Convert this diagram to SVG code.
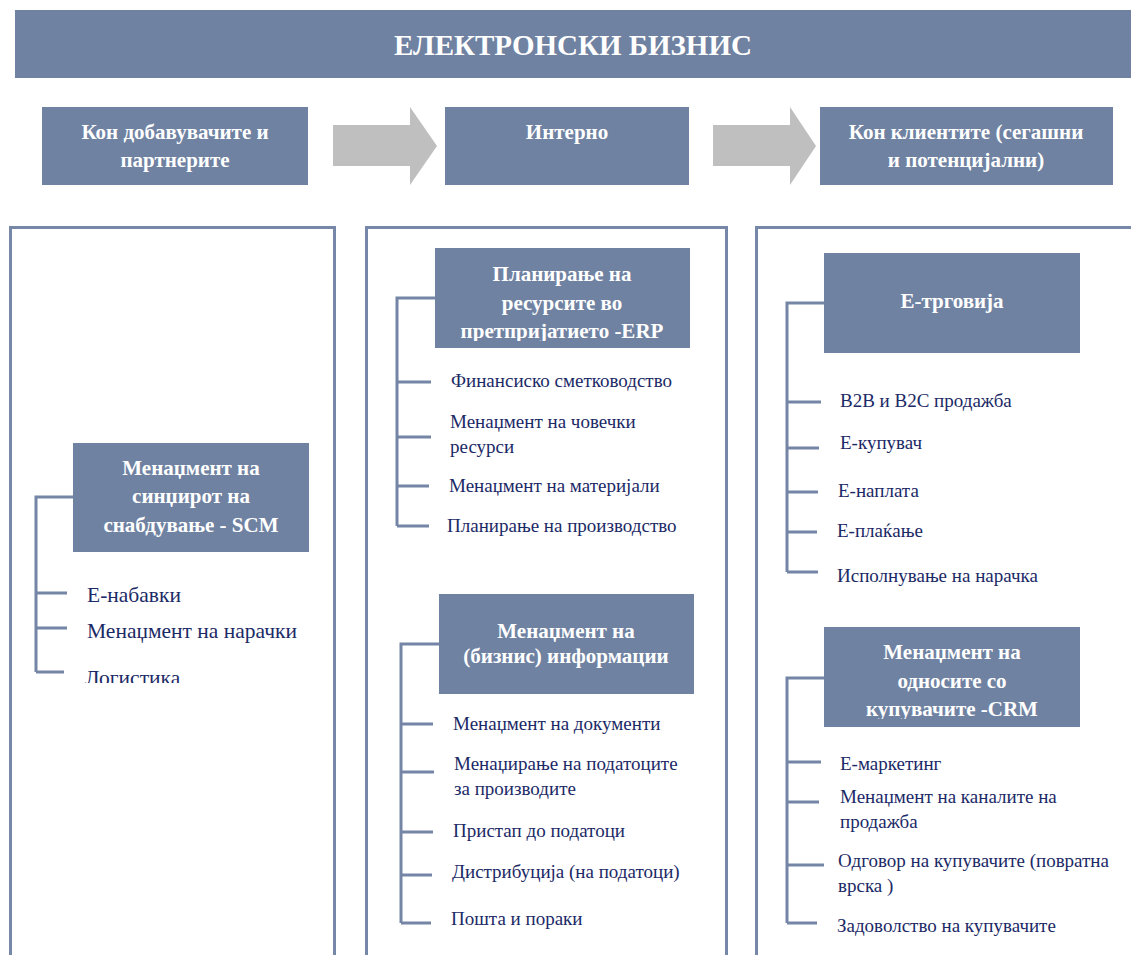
<svg xmlns="http://www.w3.org/2000/svg" width="1131" height="955" viewBox="0 0 1131 955">
  <style>
    .box { fill: #6f82a2; }
    .panel { fill: none; stroke: #7687a8; stroke-width: 3; }
    .arrow { fill: #bfbfbf; }
    .wire { fill: none; stroke: #7485a6; stroke-width: 3; }
    .bt { font-weight: bold; fill: #ffffff; text-anchor: middle; font-size: 21px; }
    .it { fill: #1b2a66; font-size: 19px; }
    .it1 { font-size: 21.5px; }
  </style>
  <defs>
    <clipPath id="clipScm"><rect x="0" y="0" width="1131" height="683"/></clipPath>
    <clipPath id="clipErp"><rect x="435" y="248" width="255" height="93"/></clipPath>
    <clipPath id="clipCrm"><rect x="824" y="627" width="256" height="92"/></clipPath>
  </defs>

  <rect width="1131" height="955" fill="#ffffff"/>

  <g font-family="Liberation Serif, Times New Roman, serif">
  <!-- title bar -->
  <g id="title">
    <rect class="box" x="15" y="10" width="1116" height="68"/>
    <text class="bt" x="573" y="55" font-size="29" style="font-size:29px">ЕЛЕКТРОНСКИ БИЗНИС</text>
  </g>

  <!-- flow header -->
  <g id="head-suppliers">
    <rect class="box" x="42" y="107" width="266" height="78"/>
    <text class="bt" x="175" y="139">Кон добавувачите и</text>
    <text class="bt" x="175" y="167">партнерите</text>
  </g>
  <g id="head-internal">
    <rect class="box" x="445" y="107" width="244" height="78"/>
    <text class="bt" x="567" y="139">Интерно</text>
  </g>
  <g id="head-clients">
    <rect class="box" x="820" y="107" width="293" height="78"/>
    <text class="bt" x="966" y="139">Кон клиентите (сегашни</text>
    <text class="bt" x="966" y="167">и потенцијални)</text>
  </g>
  <g id="arrows">
    <polygon class="arrow" points="333,125 410,125 410,107 437,146 410,185 410,166 333,166"/>
    <polygon class="arrow" points="713,125 790,125 790,107 816,146 790,185 790,166 713,166"/>
  </g>

  <!-- column frames -->
  <g id="panels">
    <rect class="panel" x="10.5" y="227.5" width="324" height="740"/>
    <rect class="panel" x="366.5" y="227.5" width="360" height="740"/>
    <rect class="panel" x="756.5" y="227.5" width="400" height="740"/>
  </g>

  <!-- tree connectors -->
  <g id="connectors">
    <path class="wire" d="M73,497 H36 V672 M36,593 H67 M36,628 H67 M36,672 H64"/>
    <path class="wire" d="M435,298 H397 V526 M397,382 H431 M397,437 H431 M397,486 H429 M397,526 H429"/>
    <path class="wire" d="M439,644 H401 V923 M401,724 H433 M401,772 H434 M401,832 H433 M401,875 H432 M401,923 H431"/>
    <path class="wire" d="M824,303 H787 V572 M787,402 H821 M787,448 H819 M787,492 H818 M787,532 H817 M787,572 H818"/>
    <path class="wire" d="M824,678 H787 V923 M787,762 H821 M787,802 H819 M787,865 H824 M787,923 H817"/>
  </g>

  <!-- supply chain column -->
  <g id="scm">
    <rect class="box" x="73" y="443" width="236" height="109"/>
    <text class="bt" x="191" y="475">Менаџмент на</text>
    <text class="bt" x="191" y="503">синџирот на</text>
    <text class="bt" x="191" y="532">снабдување - SCM</text>
  </g>
  <g id="scm-items" clip-path="url(#clipScm)">
    <text class="it it1" x="87" y="602">Е-набавки</text>
    <text class="it it1" x="87" y="638">Менаџмент на нарачки</text>
    <text class="it it1" x="85" y="685">Логистика</text>
  </g>

  <!-- internal column -->
  <g id="erp">
    <rect class="box" x="435" y="248" width="255" height="100"/>
    <g clip-path="url(#clipErp)">
      <text class="bt" x="562" y="281">Планирање на</text>
      <text class="bt" x="562" y="310">ресурсите во</text>
      <text class="bt" x="562" y="338">претпријатието -ERP</text>
    </g>
  </g>
  <g id="erp-items">
    <text class="it" x="451" y="387">Финансиско сметководство</text>
    <text class="it" x="450" y="428">Менаџмент на човечки</text>
    <text class="it" x="450" y="453">ресурси</text>
    <text class="it" x="449" y="492">Менаџмент на материјали</text>
    <text class="it" x="447" y="532">Планирање на производство</text>
  </g>

  <g id="info">
    <rect class="box" x="439" y="594" width="255" height="100"/>
    <text class="bt" x="566" y="638">Менаџмент на</text>
    <text class="bt" x="566" y="663">(бизнис) информации</text>
  </g>
  <g id="info-items">
    <text class="it" x="453" y="730">Менаџмент на документи</text>
    <text class="it" x="454" y="770">Менаџирање на податоците</text>
    <text class="it" x="454" y="795">за производите</text>
    <text class="it" x="453" y="837">Пристап до податоци</text>
    <text class="it" x="452" y="878">Дистрибуција (на податоци)</text>
    <text class="it" x="451" y="925">Пошта и пораки</text>
  </g>

  <!-- clients column -->
  <g id="ecommerce">
    <rect class="box" x="824" y="253" width="256" height="100"/>
    <text class="bt" x="952" y="308">Е-трговија</text>
  </g>
  <g id="ecommerce-items">
    <text class="it" x="840" y="407">B2B и B2C продажба</text>
    <text class="it" x="840" y="449">Е-купувач</text>
    <text class="it" x="838" y="497">Е-наплата</text>
    <text class="it" x="837" y="537">Е-плаќање</text>
    <text class="it" x="837" y="582">Исполнување на нарачка</text>
  </g>

  <g id="crm">
    <rect class="box" x="824" y="627" width="256" height="100"/>
    <g clip-path="url(#clipCrm)">
      <text class="bt" x="952" y="659">Менаџмент на</text>
      <text class="bt" x="952" y="688">односите со</text>
      <text class="bt" x="952" y="716">купувачите -CRM</text>
    </g>
  </g>
  <g id="crm-items">
    <text class="it" x="840" y="770">Е-маркетинг</text>
    <text class="it" x="840" y="803">Менаџмент на каналите на</text>
    <text class="it" x="840" y="828">продажба</text>
    <text class="it" x="838" y="867">Одговор на купувачите (повратна</text>
    <text class="it" x="838" y="892">врска )</text>
    <text class="it" x="837" y="932">Задоволство на купувачите</text>
  </g>
  </g>
</svg>
